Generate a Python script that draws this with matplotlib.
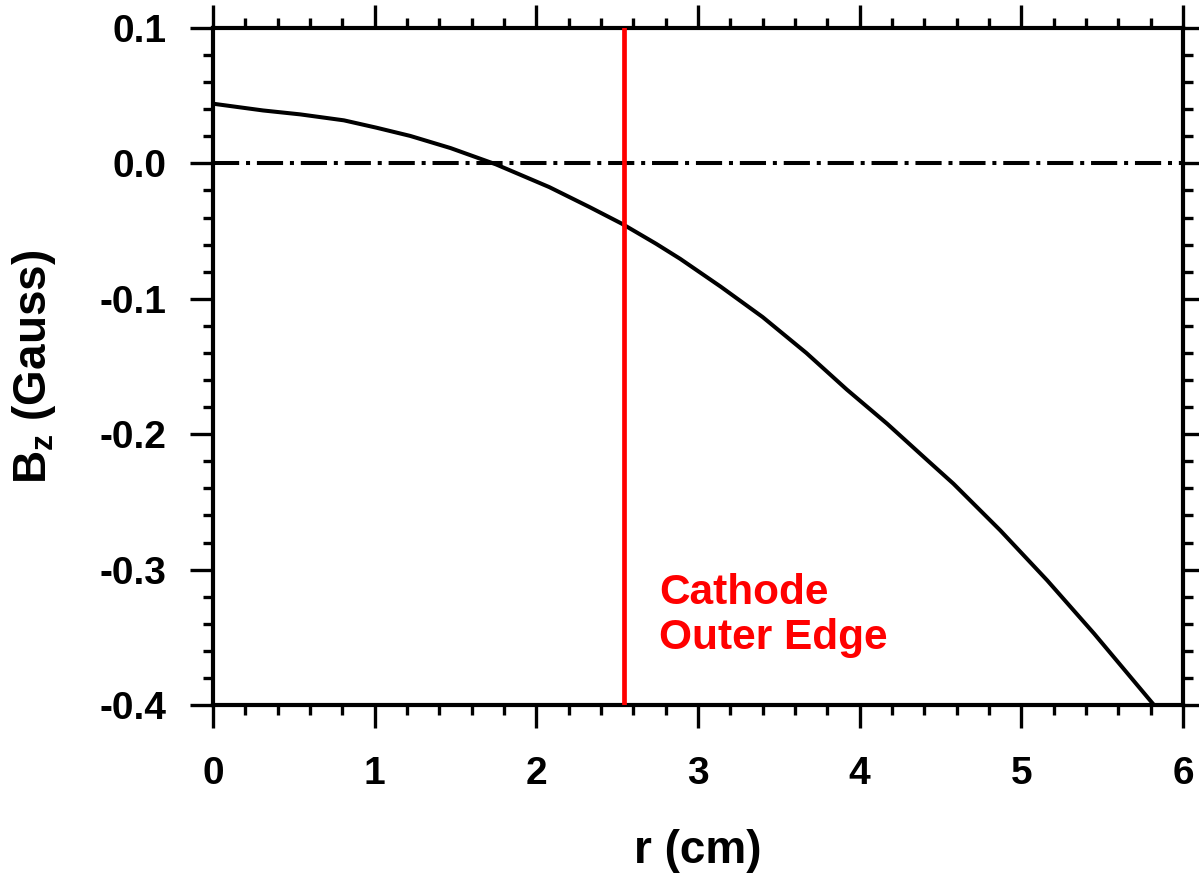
import matplotlib
matplotlib.use("Agg")
import matplotlib.pyplot as plt
from matplotlib.ticker import MultipleLocator

plt.rcParams['font.family'] = ['Liberation Sans', 'DejaVu Sans']
plt.rcParams['font.weight'] = 'bold'
plt.rcParams['mathtext.fontset'] = 'custom'
plt.rcParams['mathtext.rm'] = 'Liberation Sans:bold'

# axial field along the radius
r_cm = [0.0, 0.31, 0.54, 0.81, 1.01, 1.22, 1.47, 1.75, 2.08, 2.33, 2.53,
        2.74, 2.89, 3.14, 3.40, 3.67, 3.92, 4.17, 4.42, 4.58, 4.87, 5.16,
        5.45, 5.82]
bz_gauss = [0.0441, 0.0391, 0.0362, 0.0318, 0.0264, 0.0203, 0.0113,
            -0.0007, -0.0175, -0.0323, -0.0446, -0.0593, -0.0705, -0.0910,
            -0.1135, -0.1400, -0.1670, -0.1923, -0.2194, -0.2366, -0.2711,
            -0.308, -0.3473, -0.40]

cathode_edge = 2.54  # cm
xticks = [0, 1, 2, 3, 4, 5, 6]
yticks = [0.1, 0.0, -0.1, -0.2, -0.3, -0.4]

fig = plt.figure(figsize=(11.99, 8.75), dpi=100)
ax = fig.add_axes([0.1776, 0.1943, 0.8091, 0.7737])

ax.plot(r_cm, bz_gauss, color='black', lw=2.9, zorder=3)
ax.axhline(0.0, color='black', lw=2.9, linestyle=(0, (6.5, 1.7, 1.0, 1.7)))
ax.axvline(cathode_edge, color='red', lw=3.4, zorder=4)
ax.text(cathode_edge + 0.22, -0.334, 'Cathode\nOuter Edge', color='red',
        fontsize=30.5, fontweight='bold', ha='left', va='center',
        linespacing=1.15)

ax.set_xlim(0, 6)
ax.set_ylim(-0.4, 0.1)
ax.set_xticks(xticks)
ax.set_yticks(yticks)
ax.set_yticklabels(['%.1f' % v for v in yticks])
ax.xaxis.set_minor_locator(MultipleLocator(0.2))
ax.yaxis.set_minor_locator(MultipleLocator(0.02))

for side in ax.spines.values():
    side.set_linewidth(3)

ax.tick_params(which='both', direction='out', top=True, right=True,
               width=2.4, labelsize=28)
ax.tick_params(which='major', length=16.5)
ax.tick_params(which='minor', length=7)
ax.tick_params(axis='x', pad=20)
ax.tick_params(axis='y', pad=17)

ax.set_xlabel('r (cm)', fontsize=33, fontweight='bold', labelpad=27)
ax.set_ylabel(r'B$_\mathregular{z}$ (Gauss)', fontsize=33, fontweight='bold',
              labelpad=30)

fig.savefig('out.png', dpi=100)
